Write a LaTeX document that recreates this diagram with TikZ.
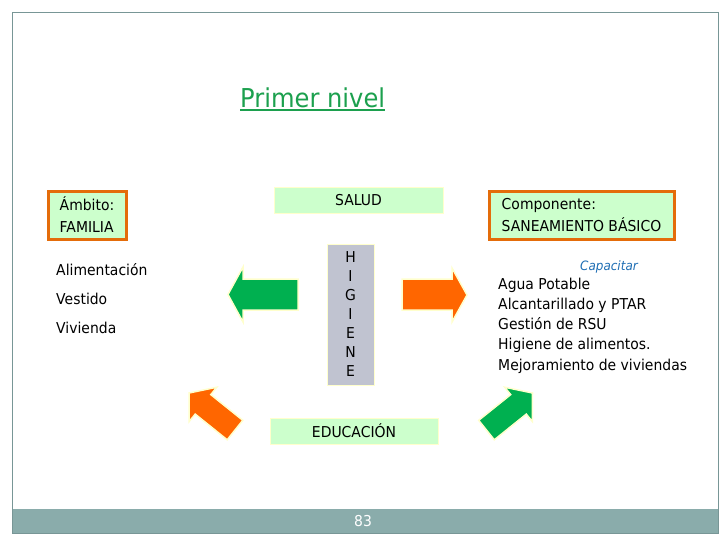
\documentclass[tikz,border=0pt]{standalone}
\usepackage{fontspec}
\setmainfont[FakeStretch=0.93]{DejaVu Sans}

\definecolor{titlegreen}{RGB}{28,160,78}
\definecolor{arrowgreen}{RGB}{0,176,80}
\definecolor{arroworange}{RGB}{255,102,0}
\definecolor{boxorange}{RGB}{228,108,10}
\definecolor{lightgreen}{RGB}{204,255,204}
\definecolor{higgray}{RGB}{192,195,208}
\definecolor{glow}{RGB}{255,255,204}
\definecolor{barteal}{RGB}{138,172,171}
\definecolor{framegray}{RGB}{120,150,150}
\definecolor{capblue}{RGB}{31,110,180}

\newlength\px
\setlength\px{0.03cm}

\tikzset{
  lbl/.style={anchor=base west,inner sep=0pt,font=\fontsize{12.8}{15}\selectfont},
  framebox/.style={draw=boxorange,line width=3\px,fill=lightgreen,align=left,
    minimum height=48\px,inner sep=0pt,font=\fontsize{12.8}{18.8}\selectfont},
  bandbox/.style={draw=glow,fill=lightgreen,minimum height=26\px,inner sep=0pt,
    font=\fontsize{12.8}{15}\selectfont},
  blockarrow/.style={draw=glow,line width=1.5\px,line join=miter}
}

\begin{document}
\begin{tikzpicture}[x=0.03cm,y=-0.03cm]
  \useasboundingbox (0,0) rectangle (728,546);
  % slide frame and footer
  \fill[barteal] (12,509) rectangle (718,533);
  \draw[framegray] (12,12) rectangle (718,533);
  \node[text=white,font=\fontsize{12.8}{15}\selectfont] (page) at (363,521) {83};

  % title
  \node[anchor=base west,inner sep=0pt,text=titlegreen,font=\fontsize{22.2}{26}\selectfont]
    (title) at (240,107) {Primer nivel};
  \draw[titlegreen,line width=1.6\px] ([yshift=-3\px]title.base west) -- ([yshift=-3\px]title.base east);

  % boxes
  \node[framebox,minimum width=78\px] (ambito) at (87,215) {Ámbito:\\FAMILIA};
  \node[framebox,minimum width=185\px] (comp) at (581.5,215) {Componente:\\SANEAMIENTO BÁSICO};
  \node[bandbox,minimum width=169\px] (salud) at (358.5,200) {SALUD};
  \node[bandbox,minimum width=168\px] (educ) at (354,431) {EDUCACIÓN};
  \node[draw=glow,fill=higgray,minimum width=47\px,minimum height=141\px] (hig) at (350.5,314.5) {};
  \foreach \l [count=\i] in {H,I,G,I,E,N,E}
    \node[inner sep=0pt,font=\fontsize{12.8}{15}\selectfont] (hig\i) at (350.5,{257.5+19*(\i-1)}) {\l};

  % lists
  \foreach \t [count=\i] in {Alimentación,Vestido,Vivienda}
    \node[lbl] (fam\i) at (56,{275+29*(\i-1)}) {\t};
  \node[anchor=base,inner sep=0pt,text=capblue,font=\itshape\fontsize{11}{13}\selectfont]
    (capacitar) at (609,270) {Capacitar};
  \foreach \t [count=\i] in {Agua Potable,Alcantarillado y PTAR,Gestión de RSU,Higiene de alimentos.,Mejoramiento de viviendas}
    \node[lbl] (san\i) at (498,{289+20.3*(\i-1)}) {\t};

  % block arrows
  \draw[blockarrow,fill=arrowgreen] (228,294.5) -- (243,267) -- (243,279) -- (298,279)
    -- (298,310) -- (243,310) -- (243,322) -- cycle;
  \draw[blockarrow,fill=arroworange] (402,279) -- (452,279) -- (452,268) -- (467,295)
    -- (452,322) -- (452,310) -- (402,310) -- cycle;
  \draw[blockarrow,fill=arroworange] (242.8,420.3) -- (210.8,394.6) -- (216.8,387.2) -- (189,393)
    -- (189.2,421.5) -- (195.2,414.1) -- (227.2,439.8) -- cycle;
  \draw[blockarrow,fill=arrowgreen] (478.7,420.3) -- (510.7,394.6) -- (504.7,387.2) -- (532.5,393)
    -- (532.3,421.5) -- (526.3,414.1) -- (494.3,439.8) -- cycle;
\end{tikzpicture}
\end{document}
